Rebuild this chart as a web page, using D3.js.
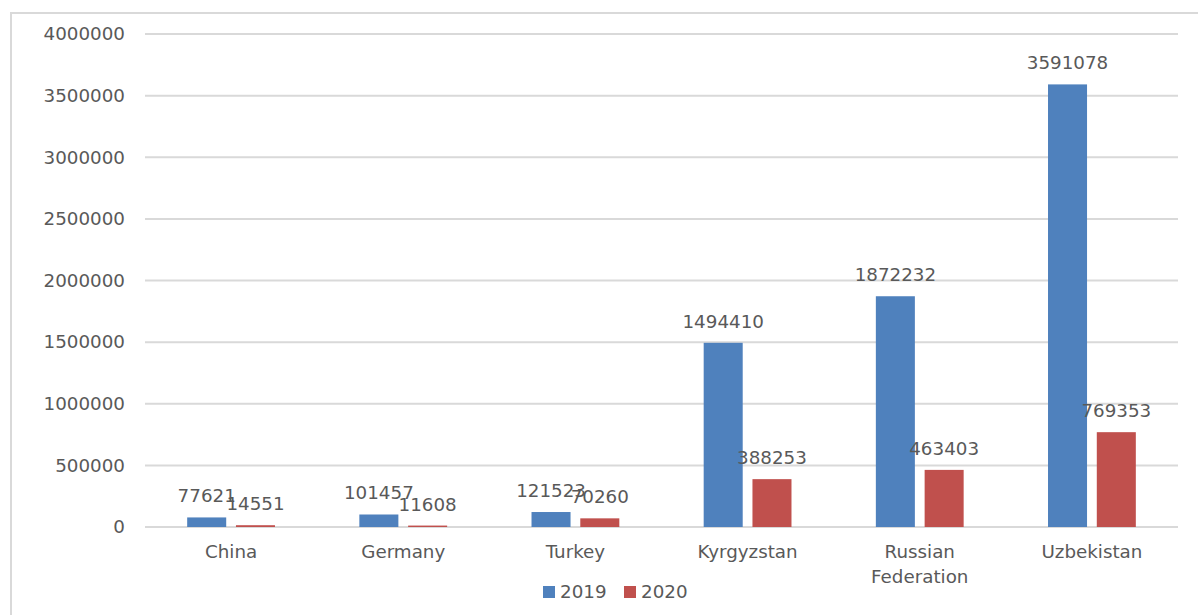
<!DOCTYPE html>
<html>
<head>
<meta charset="utf-8">
<script src="https://cdn.jsdelivr.net/npm/d3@7"></script>
<style>
  body { margin: 0; background: #fff; }
  text { font-family: "DejaVu Sans", Verdana, sans-serif; fill: #595959; }
</style>
</head>
<body>
<div id="chart"></div>
<script>
// Data
const countries = ["China", "Germany", "Turkey", "Kyrgyzstan", "Russian Federation", "Uzbekistan"];
const years = ["2019", "2020"];
const values2019 = [77621, 101457, 121523, 1494410, 1872232, 3591078];
const values2020 = [14551, 11608, 70260, 388253, 463403, 769353];
const yTicks = [0, 500000, 1000000, 1500000, 2000000, 2500000, 3000000, 3500000, 4000000];
const colors = ["#4F81BD", "#C0504D"];

const width = 1198;
const height = 615;
const plot = { left: 145, right: 1178, top: 34, bottom: 527 };
const fontSize = "18.3px";

const svg = d3
  .select("#chart")
  .append("svg")
  .attr("width", width)
  .attr("height", height);

// outer chart border
svg
  .append("rect")
  .attr("x", 11)
  .attr("y", 13)
  .attr("width", 1220)
  .attr("height", 640)
  .attr("fill", "none")
  .attr("stroke", "#d9d9d9")
  .attr("stroke-width", 2);

//-----------------------------SCALES-----------------------------//
const x0 = d3
  .scaleBand()
  .domain(countries)
  .range([plot.left, plot.right])
  .paddingInner(0.49)
  .paddingOuter(0.245);

const x1 = d3
  .scaleBand()
  .domain(years)
  .range([0, x0.bandwidth()])
  .paddingInner(0.2);

const y = d3.scaleLinear().domain([0, 4000000]).range([plot.bottom, plot.top]);

//-----------------------------GRID-----------------------------//
svg
  .append("g")
  .selectAll("line")
  .data(yTicks)
  .enter()
  .append("line")
  .attr("x1", plot.left)
  .attr("x2", plot.right)
  .attr("y1", (d) => y(d))
  .attr("y2", (d) => y(d))
  .attr("stroke", "#d9d9d9")
  .attr("stroke-width", 2);

const yAxis = d3.axisLeft(y).tickValues(yTicks).tickSize(0).tickPadding(20).tickFormat(d3.format("d"));
svg
  .append("g")
  .attr("transform", `translate(${plot.left},0)`)
  .call(yAxis)
  .call((g) => g.select(".domain").remove())
  .selectAll("text")
  .style("font-size", fontSize)
  .style("font-family", "DejaVu Sans, sans-serif")
  .attr("fill", "#595959");

//-----------------------------BARS-----------------------------//
const rows = countries.map((c, i) => ({
  country: c,
  vals: [
    { year: years[0], value: values2019[i] },
    { year: years[1], value: values2020[i] },
  ],
}));

const groups = svg
  .append("g")
  .selectAll("g")
  .data(rows)
  .enter()
  .append("g")
  .attr("transform", (d) => `translate(${x0(d.country)},0)`);

groups
  .selectAll("rect")
  .data((d) => d.vals)
  .enter()
  .append("rect")
  .attr("x", (d) => x1(d.year))
  .attr("y", (d) => y(d.value))
  .attr("width", x1.bandwidth())
  .attr("height", (d) => y(0) - y(d.value))
  .attr("fill", (d, i) => colors[i]);

groups
  .selectAll(".val")
  .data((d) => d.vals)
  .enter()
  .append("text")
  .attr("class", "val")
  .attr("x", (d) => x1(d.year) + x1.bandwidth() / 2)
  .attr("y", (d) => y(d.value) - 15)
  .attr("text-anchor", "middle")
  .style("font-size", fontSize)
  .text((d) => d.value);

//-----------------------------X LABELS-----------------------------//
const xl = svg
  .append("g")
  .selectAll("text")
  .data(countries)
  .enter()
  .append("text")
  .attr("x", (d) => x0(d) + x0.bandwidth() / 2)
  .attr("y", 558)
  .attr("text-anchor", "middle")
  .style("font-size", fontSize);

xl.each(function (d) {
  const words = d === "Russian Federation" ? ["Russian", "Federation"] : [d];
  const t = d3.select(this);
  words.forEach((w, i) => {
    t.append("tspan")
      .attr("x", t.attr("x"))
      .attr("dy", i === 0 ? 0 : 25)
      .text(w);
  });
});

//-----------------------------LEGEND-----------------------------//
const legend = svg
  .append("g")
  .selectAll("g")
  .data(years)
  .enter()
  .append("g")
  .attr("transform", (d, i) => `translate(${543 + i * 81},586)`);

legend
  .append("rect")
  .attr("width", 12)
  .attr("height", 12)
  .attr("fill", (d, i) => colors[i]);

legend
  .append("text")
  .attr("x", 17)
  .attr("y", 12)
  .style("font-size", fontSize)
  .text((d) => d);
</script>
</body>
</html>
